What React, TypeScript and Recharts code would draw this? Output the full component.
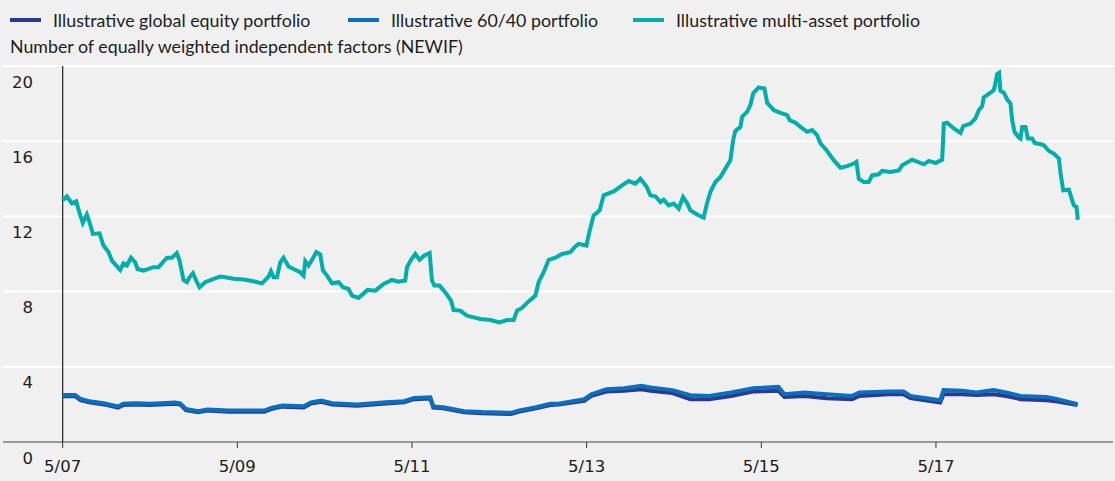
import {
  CartesianGrid,
  Line,
  LineChart,
  ReferenceLine,
  XAxis,
  YAxis,
} from 'recharts';

// multi-asset portfolio, decimal years
const multiDates = [
  2007.333, 2007.381, 2007.438, 2007.488, 2007.525, 2007.564, 2007.61, 2007.64, 2007.679, 2007.755,
  2007.8, 2007.858, 2007.897, 2007.992, 2008.03, 2008.069, 2008.115, 2008.164, 2008.19, 2008.259,
  2008.373, 2008.431, 2008.527, 2008.584, 2008.641, 2008.671, 2008.699, 2008.717, 2008.756, 2008.786,
  2008.825, 2008.862, 2008.9, 2008.965, 2009.061, 2009.137, 2009.194, 2009.29, 2009.404, 2009.519,
  2009.615, 2009.691, 2009.718, 2009.748, 2009.787, 2009.825, 2009.862, 2009.92, 2009.977, 2010.054,
  2010.092, 2010.111, 2010.149, 2010.188, 2010.238, 2010.283, 2010.314, 2010.36, 2010.417, 2010.493,
  2010.543, 2010.607, 2010.646, 2010.721, 2010.824, 2010.913, 2011.008, 2011.104, 2011.18, 2011.256,
  2011.276, 2011.322, 2011.371, 2011.42, 2011.474, 2011.535, 2011.562, 2011.589, 2011.649, 2011.715,
  2011.78, 2011.81, 2011.886, 2011.963, 2012.039, 2012.115, 2012.23, 2012.336, 2012.421, 2012.497,
  2012.536, 2012.593, 2012.669, 2012.746, 2012.783, 2012.841, 2012.898, 2012.975, 2013.051, 2013.146,
  2013.204, 2013.241, 2013.33, 2013.368, 2013.413, 2013.482, 2013.528, 2013.642, 2013.739, 2013.814,
  2013.891, 2013.948, 2014.017, 2014.063, 2014.12, 2014.178, 2014.215, 2014.273, 2014.33, 2014.387,
  2014.437, 2014.483, 2014.521, 2014.598, 2014.673, 2014.712, 2014.75, 2014.807, 2014.865, 2014.922,
  2014.979, 2015.01, 2015.036, 2015.094, 2015.113, 2015.17, 2015.208, 2015.239, 2015.303, 2015.369,
  2015.4, 2015.475, 2015.552, 2015.629, 2015.658, 2015.724, 2015.781, 2015.858, 2015.915, 2015.972,
  2016.01, 2016.087, 2016.162, 2016.239, 2016.316, 2016.391, 2016.422, 2016.449, 2016.506, 2016.563,
  2016.602, 2016.678, 2016.717, 2016.812, 2016.907, 2016.946, 2017.061, 2017.194, 2017.251, 2017.328,
  2017.404, 2017.423, 2017.461, 2017.537, 2017.614, 2017.645, 2017.729, 2017.785, 2017.823, 2017.862,
  2017.88, 2017.957, 2017.995, 2018.014, 2018.033, 2018.056, 2018.071, 2018.11, 2018.148, 2018.186,
  2018.206, 2018.232, 2018.281, 2018.301, 2018.32, 2018.358, 2018.385, 2018.435, 2018.463, 2018.531,
  2018.568, 2018.626, 2018.683, 2018.74, 2018.76, 2018.79, 2018.855, 2018.881, 2018.911, 2018.942,
  2018.957,
];
const multiValues = [
  12.85, 13.07, 12.7, 12.8, 12.2, 11.65, 12.1, 11.7, 11.07, 11.1,
  10.45, 10.1, 9.65, 9.15, 9.5, 9.39, 9.8, 9.56, 9.2, 9.12,
  9.3, 9.3, 9.8, 9.8, 10.05, 9.65, 9.03, 8.62, 8.5, 8.76,
  8.98, 8.59, 8.23, 8.5, 8.68, 8.8, 8.76, 8.68, 8.64, 8.55,
  8.44, 8.8, 9.08, 8.76, 8.76, 9.56, 9.8, 9.33, 9.2, 9.03,
  8.85, 9.62, 9.39, 9.69, 10.1, 9.97, 9.12, 8.85, 8.44, 8.5,
  8.23, 8.14, 7.79, 7.66, 8.09, 8.05, 8.41, 8.62, 8.53, 8.59,
  9.3, 9.69, 10.0, 9.69, 9.92, 10.05, 8.59, 8.32, 8.32, 7.96,
  7.52, 7.02, 6.99, 6.72, 6.63, 6.54, 6.49, 6.36, 6.49, 6.49,
  6.99, 7.13, 7.48, 7.79, 8.5, 9.03, 9.69, 9.8, 10.0, 10.1,
  10.4, 10.54, 10.45, 11.25, 12.05, 12.32, 13.12, 13.33, 13.65, 13.88,
  13.74, 14.0, 13.6, 13.12, 13.07, 12.76, 12.89, 12.59, 12.68, 12.41,
  13.03, 12.71, 12.32, 12.1, 11.93, 12.71, 13.3, 13.83, 14.1, 14.54,
  14.99, 16.05, 16.55, 16.76, 17.3, 17.56, 17.92, 18.54, 18.86, 18.8,
  18.04, 17.65, 17.51, 17.39, 17.12, 16.98, 16.76, 16.5, 16.59, 16.32,
  15.88, 15.48, 14.99, 14.59, 14.67, 14.81, 14.9, 14.0, 13.83, 13.83,
  14.19, 14.24, 14.42, 14.36, 14.45, 14.72, 15.02, 14.77, 14.95, 14.84,
  15.02, 16.94, 16.98, 16.68, 16.44, 16.8, 16.94, 17.21, 17.65, 17.87,
  18.33, 18.58, 18.72, 19.08, 19.57, 19.64, 18.68, 18.58, 18.22, 18.0,
  17.12, 16.5, 16.2, 16.14, 16.76, 16.76, 16.14, 16.14, 15.91, 15.84,
  15.79, 15.48, 15.34, 15.08, 14.28, 13.39, 13.42, 13.03, 12.59, 12.5,
  11.82,
];

// global equity and 60/40 share the same dates
const lowDates = [
  2007.333, 2007.476, 2007.538, 2007.637, 2007.804, 2007.969, 2008.026, 2008.172, 2008.335, 2008.622,
  2008.679, 2008.744, 2008.885, 2008.988, 2009.236, 2009.641, 2009.721, 2009.847, 2010.095, 2010.176,
  2010.294, 2010.42, 2010.706, 2011.035, 2011.24, 2011.359, 2011.543, 2011.577, 2011.692, 2011.932,
  2012.138, 2012.467, 2012.551, 2012.753, 2012.917, 2013.009, 2013.306, 2013.387, 2013.559, 2013.765,
  2013.96, 2014.063, 2014.315, 2014.521, 2014.735, 2014.987, 2015.239, 2015.529, 2015.598, 2015.827,
  2016.079, 2016.373, 2016.457, 2016.789, 2016.961, 2017.041, 2017.381, 2017.419, 2017.633, 2017.797,
  2017.992, 2018.137, 2018.301, 2018.599, 2018.725, 2018.954,
];
const equityValues = [
  2.44, 2.44, 2.23, 2.11, 2.0, 1.83, 1.97, 2.0, 1.97, 2.04,
  2.0, 1.7, 1.58, 1.67, 1.61, 1.61, 1.75, 1.88, 1.84, 2.05,
  2.14, 2.0, 1.93, 2.05, 2.11, 2.28, 2.32, 1.83, 1.79, 1.58,
  1.53, 1.49, 1.61, 1.79, 1.97, 2.0, 2.19, 2.45, 2.68, 2.72,
  2.81, 2.72, 2.6, 2.28, 2.28, 2.45, 2.68, 2.72, 2.4, 2.45,
  2.33, 2.28, 2.45, 2.54, 2.54, 2.33, 2.1, 2.54, 2.54, 2.5,
  2.54, 2.45, 2.28, 2.22, 2.15, 1.97,
];
const sixtyFortyValues = [
  2.5, 2.5, 2.29, 2.17, 2.06, 1.89, 2.03, 2.06, 2.03, 2.1,
  2.06, 1.76, 1.64, 1.73, 1.67, 1.67, 1.81, 1.94, 1.9, 2.11,
  2.2, 2.06, 1.99, 2.11, 2.17, 2.34, 2.38, 1.89, 1.85, 1.64,
  1.59, 1.55, 1.67, 1.85, 2.03, 2.04, 2.28, 2.54, 2.81, 2.86,
  2.99, 2.9, 2.76, 2.49, 2.45, 2.63, 2.86, 2.93, 2.54, 2.63,
  2.54, 2.45, 2.63, 2.68, 2.68, 2.45, 2.22, 2.76, 2.72, 2.63,
  2.76, 2.63, 2.45, 2.4, 2.28, 2.01,
];

const xTicks = [2007.333, 2009.333, 2011.333, 2013.333, 2015.333, 2017.333];
const yTicks = [0, 4, 8, 12, 16, 20];

const legendItems = [
  { label: 'Illustrative global equity portfolio', color: '#2a3a8f', x: 10 },
  { label: 'Illustrative 60/40 portfolio', color: '#0b6fbf', x: 348 },
  { label: 'Illustrative multi-asset portfolio', color: '#00afaa', x: 633 },
];

const equityData = lowDates.map((t, i) => ({ t, v: equityValues[i] }));
const sixtyFortyData = lowDates.map((t, i) => ({ t, v: sixtyFortyValues[i] }));
const multiData = multiDates.map((t, i) => ({ t, v: multiValues[i] }));

const FONT = 'Lato, sans-serif';
const TEXT = '#1d1d1b';

function XTick({ x, y, payload }: any) {
  const yr = String(Math.round(payload.value)).slice(2);
  return (
    <text x={x} y={y} dy={16} textAnchor="middle" dominantBaseline="central"
      fontFamily="DejaVu Sans, sans-serif" fontSize={16.5} fill={TEXT}>
      {`5/${yr}`}
    </text>
  );
}

function YTick({ y, payload }: any) {
  return (
    <text x={33} y={y + 16} textAnchor="end" dominantBaseline="central"
      fontFamily="DejaVu Sans, sans-serif" fontSize={16.5} fill={TEXT}>
      {payload.value}
    </text>
  );
}

export default function App() {
  return (
    <div style={{ position: 'absolute', left: 0, top: 0, width: 1115, height: 481, background: '#f0f0f0', fontFamily: FONT, color: TEXT }}>
      {legendItems.map((item) => (
        <div key={item.label} style={{ position: 'absolute', left: item.x, top: 8, height: 24, display: 'flex', alignItems: 'center', whiteSpace: 'nowrap' }}>
          <span style={{ display: 'inline-block', width: 31, height: 4, background: item.color, marginRight: 12 }} />
          <span style={{ fontSize: 17.8 }}>{item.label}</span>
        </div>
      ))}
      <div style={{ position: 'absolute', left: 10, top: 35, fontSize: 17.8, whiteSpace: 'nowrap' }}>
        Number of equally weighted independent factors (NEWIF)
      </div>
      <LineChart
        width={1115}
        height={481}
        margin={{ top: 66, right: 2, bottom: 9, left: 2 }}
        style={{ position: 'absolute', left: 0, top: 0 }}
      >
        <CartesianGrid horizontal vertical={false} stroke="#ffffff" strokeWidth={2} />
        <XAxis
          dataKey="t"
          type="number"
          domain={[2006.65, 2019.36]}
          ticks={xTicks}
          allowDataOverflow
          height={30}
          tick={<XTick />}
          tickSize={6}
          axisLine={{ stroke: '#333333' }}
          tickLine={{ stroke: '#333333' }}
        />
        <YAxis
          type="number"
          domain={[0, 20]}
          ticks={yTicks}
          interval={0}
          width={1}
          axisLine={false}
          tickLine={false}
          tick={<YTick />}
        />
        <ReferenceLine x={2007.333} stroke="#333333" strokeWidth={1.3} />
        <Line data={equityData} dataKey="v" type="linear" stroke="#2a3a8f" strokeWidth={4}
          dot={false} isAnimationActive={false} />
        <Line data={sixtyFortyData} dataKey="v" type="linear" stroke="#0b6fbf" strokeWidth={4}
          dot={false} isAnimationActive={false} />
        <Line data={multiData} dataKey="v" type="linear" stroke="#00afaa" strokeWidth={4}
          dot={false} isAnimationActive={false} />
      </LineChart>
    </div>
  );
}
